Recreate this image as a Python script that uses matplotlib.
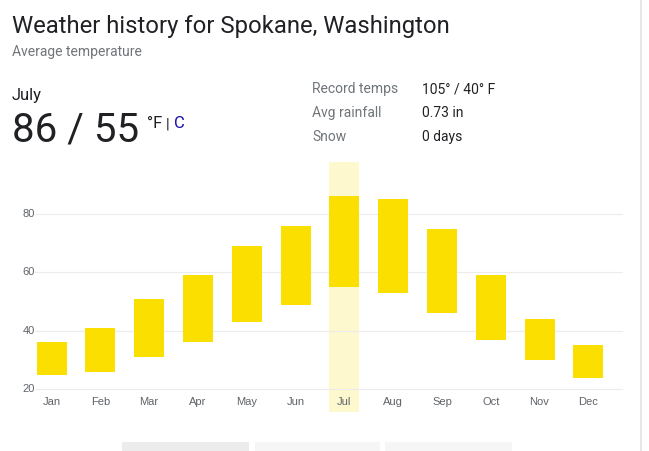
import numpy as np
import matplotlib.pyplot as plt
from matplotlib.patches import Rectangle

months = ['Jan', 'Feb', 'Mar', 'Apr', 'May', 'Jun',
          'Jul', 'Aug', 'Sep', 'Oct', 'Nov', 'Dec']
highs = [36, 41, 51, 59, 69, 76, 86, 85, 75, 59, 44, 35]
lows = [25, 26, 31, 36, 43, 49, 55, 53, 46, 37, 30, 24]
y_ticks = [20, 40, 60, 80]
selected = 6

info_labels = ['Record temps', 'Avg rainfall', 'Snow']
info_values = ['105° / 40° F', '0.73 in', '0 days']

plt.rcParams['font.family'] = ['Roboto', 'DejaVu Sans']

W, H = 649, 451
fig = plt.figure(figsize=(W / 100, H / 100), dpi=100)


def px(x, y):
    return x / W, 1 - y / H


# chart area
ax = fig.add_axes([35 / W, (H - 412) / H, (623 - 35) / W, (412 - 162) / H])
ax.set_xlim(-0.34, 11.71)
ax.set_ylim(12.2, 97.8)
ax.axis('off')

x = np.arange(len(months))
ax.axvspan(selected - 0.31, selected + 0.31, color='#fef8cf', zorder=0, lw=0)
for t in y_ticks:
    ax.axhline(t, color='#ececec', lw=0.8, zorder=1)
    ax.text(-0.34, t, str(t), ha='right', va='center', fontsize=8,
            color='#5f6368', family='Liberation Sans')

ax.bar(x, np.array(highs) - np.array(lows), bottom=lows, width=0.615,
       color='#fadf00', zorder=2)

for i, m in enumerate(months):
    ax.text(i, 15.6, m, ha='center', va='center', fontsize=8,
            color='#5f6368', family='Liberation Sans')

# header texts
fig.text(*px(12, 33), 'Weather history for Spokane, Washington',
         fontsize=17.2, color='#202124', va='baseline')
fig.text(*px(12, 56), 'Average temperature', fontsize=10,
         color='#70757a', va='baseline')
fig.text(*px(12, 100), 'July', fontsize=12, color='#202124', va='baseline')
fig.text(*px(12, 141.5), '86 / 55', fontsize=29, color='#202124', va='baseline')
fig.text(*px(147, 128), '°F', fontsize=12, color='#202124', va='baseline')
fig.text(*px(166, 128), '|', fontsize=11, color='#202124', va='baseline')
fig.text(*px(174, 128), 'C', fontsize=12, color='#1a0dab', va='baseline')

for i, (lab, val) in enumerate(zip(info_labels, info_values)):
    yb = 93.3 + 24 * i
    fig.text(*px(312, yb), lab, fontsize=10, color='#70757a', va='baseline')
    fig.text(*px(422, yb), val, fontsize=10, color='#202124', va='baseline')

# right border and bottom tabs
fig.add_artist(plt.Line2D([641 / W, 641 / W], [0, 1], color='#e3e3e3', lw=1.2))
for x0, x1, c in [(122, 249, '#ececec'), (255, 380, '#f6f6f6'), (385, 512, '#f6f6f6')]:
    fig.add_artist(Rectangle(px(x0, 451), (x1 - x0) / W, 9.5 / H,
                             color=c, lw=0, transform=fig.transFigure))

fig.savefig('out.png', dpi=100)
